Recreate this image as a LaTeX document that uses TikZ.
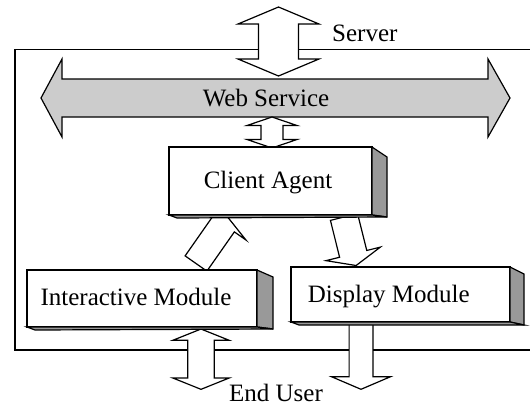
\documentclass[tikz,border=0pt]{standalone}
\usepackage{fontspec}
\setmainfont{Liberation Serif}
\usetikzlibrary{calc}
\tikzset{
  ln/.style={line width=1.2pt, line join=miter},
  barrow/.style={ln, draw=black, fill=white},
  wsarrow/.style={ln, draw=black, fill=black!20},
  face/.style={ln, draw=black, fill=white, rectangle, inner sep=0pt, outer sep=0pt},
  side/.style={ln, draw=black, fill=black!40},
  lbl/.style={font=\fontsize{25}{30}\selectfont, inner sep=0pt, anchor=base},
}
% vertical double block arrow: x, ytop, ybot, shaft half width, head half width, head length
\newcommand\vdblarrow[6]{%
  \draw[barrow] (#1,#2) -- (#1+#5,#2+#6) -- (#1+#4,#2+#6) -- (#1+#4,#3-#6)
    -- (#1+#5,#3-#6) -- (#1,#3) -- (#1-#5,#3-#6) -- (#1-#4,#3-#6)
    -- (#1-#4,#2+#6) -- (#1-#5,#2+#6) -- cycle;}
\begin{document}
\begin{tikzpicture}[x=1pt,y=-1pt]
\useasboundingbox (0,0) rectangle (530,405);

% server frame
\draw[ln] (531,49.5) -- (15,49.5) -- (15,350) -- (531,350);

% server <-> web service
\vdblarrow{278.5}{7}{76}{20}{40.5}{17}
\node[lbl, anchor=base west] (server) at (332,41.7) {Server};

% web service bus
\draw[wsarrow] (41,98) -- (62,59) -- (62,79) -- (488,79) -- (488,59) -- (510,98)
  -- (488,137) -- (488,117) -- (62,117) -- (62,137) -- cycle;
\node[lbl] (ws) at (266,106.5) {Web Service};

% web service <-> client agent
\vdblarrow{272}{117}{148}{11}{25}{8.5}

% interactive module -> client agent (tilted)
\begin{scope}[shift={(196,263.5)}, rotate=-35]
  \draw[barrow] (-13.3,0) -- (13.3,0) -- (13.3,-47.9) -- (27.4,-47.9) -- (0,-56)
    -- (-27.4,-47.9) -- (-13.3,-47.9) -- cycle;
\end{scope}
% client agent -> display module (tilted)
\begin{scope}[shift={(344,217)}, rotate=14]
  \draw[barrow] (-14,0) -- (14,0) -- (14,38) -- (28,38) -- (0,50)
    -- (-28,38) -- (-14,38) -- cycle;
\end{scope}

% end user arrows
\vdblarrow{201}{329}{389.3}{13.2}{28.2}{11.3}
\draw[barrow] (349.1,322) -- (349.1,376.7) -- (331.5,376.7) -- (361,389.3)
  -- (390.5,376.7) -- (372.9,376.7) -- (372.9,322) -- cycle;
\node[lbl] (eu) at (276,401) {End User};

% client agent box
\node[face, minimum width=203pt, minimum height=68pt] (ca) at (270.5,181) {};
\draw[side] (ca.north east) -- ++(15,10) -- ($(ca.south east)+(15,2)$) -- (ca.south east) -- cycle;
\draw[side] (ca.south west) -- (ca.south east) -- ($(ca.south east)+(15,2)$) -- ($(ca.south west)+(8,3)$) -- cycle;
\node[lbl] (catxt) at (268,188.3) {Client Agent};

% interactive module box
\node[face, minimum width=230pt, minimum height=57pt] (im) at (142,298.5) {};
\draw[side] (im.north east) -- ++(16,7) -- ($(im.south east)+(16,2)$) -- (im.south east) -- cycle;
\draw[side] (im.south west) -- (im.south east) -- ($(im.south east)+(16,2)$) -- ($(im.south west)+(8,3)$) -- cycle;
\node[lbl] (imtxt) at (136,305.8) {Interactive Module};

% display module box
\node[face, minimum width=219pt, minimum height=55pt] (dm) at (400.5,294.5) {};
\draw[side] (dm.north east) -- ++(14,7) -- ($(dm.south east)+(14,3)$) -- (dm.south east) -- cycle;
\draw[side] (dm.south west) -- (dm.south east) -- ($(dm.south east)+(14,3)$) -- ($(dm.south west)+(8,3)$) -- cycle;
\node[lbl] (dmtxt) at (388.8,302.4) {Display Module};
\end{tikzpicture}
\end{document}
